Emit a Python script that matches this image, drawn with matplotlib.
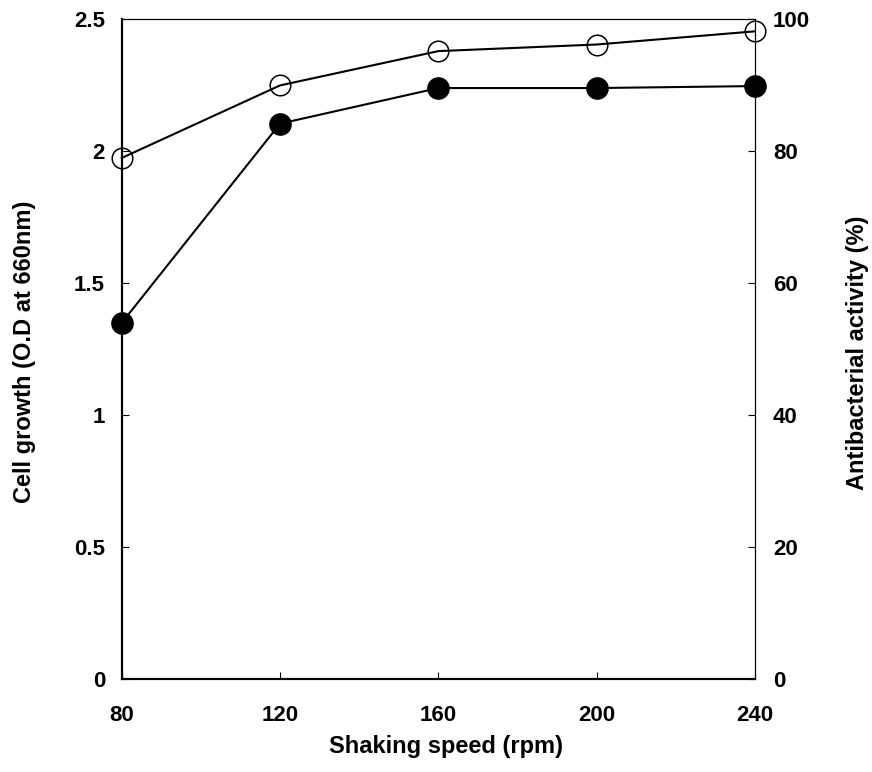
import matplotlib
matplotlib.use("Agg")
import matplotlib.pyplot as plt

# Shaking speed (rpm)
speed = [80, 120, 160, 200, 240]
# Cell growth, optical density at 660 nm (open circles, left axis)
cell_growth = [1.975, 2.25, 2.38, 2.405, 2.455]
# Antibacterial activity in % (filled circles, right axis)
antibacterial = [54.0, 84.2, 89.6, 89.6, 89.9]

x_ticks = [80, 120, 160, 200, 240]
left_ticks = [0, 0.5, 1, 1.5, 2, 2.5]
left_tick_labels = ["0", "0.5", "1", "1.5", "2", "2.5"]
right_ticks = [0, 20, 40, 60, 80, 100]

plt.rcParams["font.family"] = ["Liberation Sans", "DejaVu Sans"]
plt.rcParams["font.weight"] = "bold"

fig = plt.figure(figsize=(8.72, 7.72), dpi=100)
ax = fig.add_axes([0.1396, 0.1205, 0.7262, 0.8543])
ax2 = ax.twinx()

ax.plot(speed, cell_growth, color="black", lw=1.5, marker="o", ms=14.8,
        mfc="none", mec="black", mew=1.1, clip_on=False, zorder=3)
ax2.plot(speed, antibacterial, color="black", lw=1.5, marker="o", ms=15.3,
         mfc="black", mec="black", mew=1.0, clip_on=False, zorder=3)

ax.set_xlim(80, 240)
ax.set_ylim(0, 2.5)
ax2.set_ylim(0, 100)

ax.set_xticks(x_ticks)
ax.set_xticklabels([str(v) for v in x_ticks])
ax.set_yticks(left_ticks)
ax.set_yticklabels(left_tick_labels)
ax2.set_yticks(right_ticks)
ax2.set_yticklabels([str(v) for v in right_ticks])

for a in (ax, ax2):
    for s in a.spines.values():
        s.set_linewidth(0.8)
    a.spines["left"].set_linewidth(1.5)
    a.spines["bottom"].set_linewidth(1.5)

ax.tick_params(axis="x", direction="in", length=5, width=0.8, labelsize=16, pad=18.5)
ax.tick_params(axis="y", direction="in", length=5, width=0.8, labelsize=16, pad=12)
ax2.tick_params(axis="y", direction="in", length=5, width=0.8, labelsize=16, pad=13)

for lab in ax.get_xticklabels() + ax.get_yticklabels() + ax2.get_yticklabels():
    lab.set_fontweight("bold")

fig.text(446 / 872, 1 - 747 / 772, "Shaking speed (rpm)", ha="center", va="center",
         fontsize=17, fontweight="bold")
fig.text(25 / 872, 1 - 352 / 772, "Cell growth (O.D at 660nm)", ha="center", va="center",
         rotation=90, fontsize=17, fontweight="bold")
fig.text(857 / 872, 1 - 353 / 772, "Antibacterial activity (%)", ha="center", va="center",
         rotation=90, fontsize=17, fontweight="bold")

fig.savefig("out.png", dpi=100, facecolor="white")
